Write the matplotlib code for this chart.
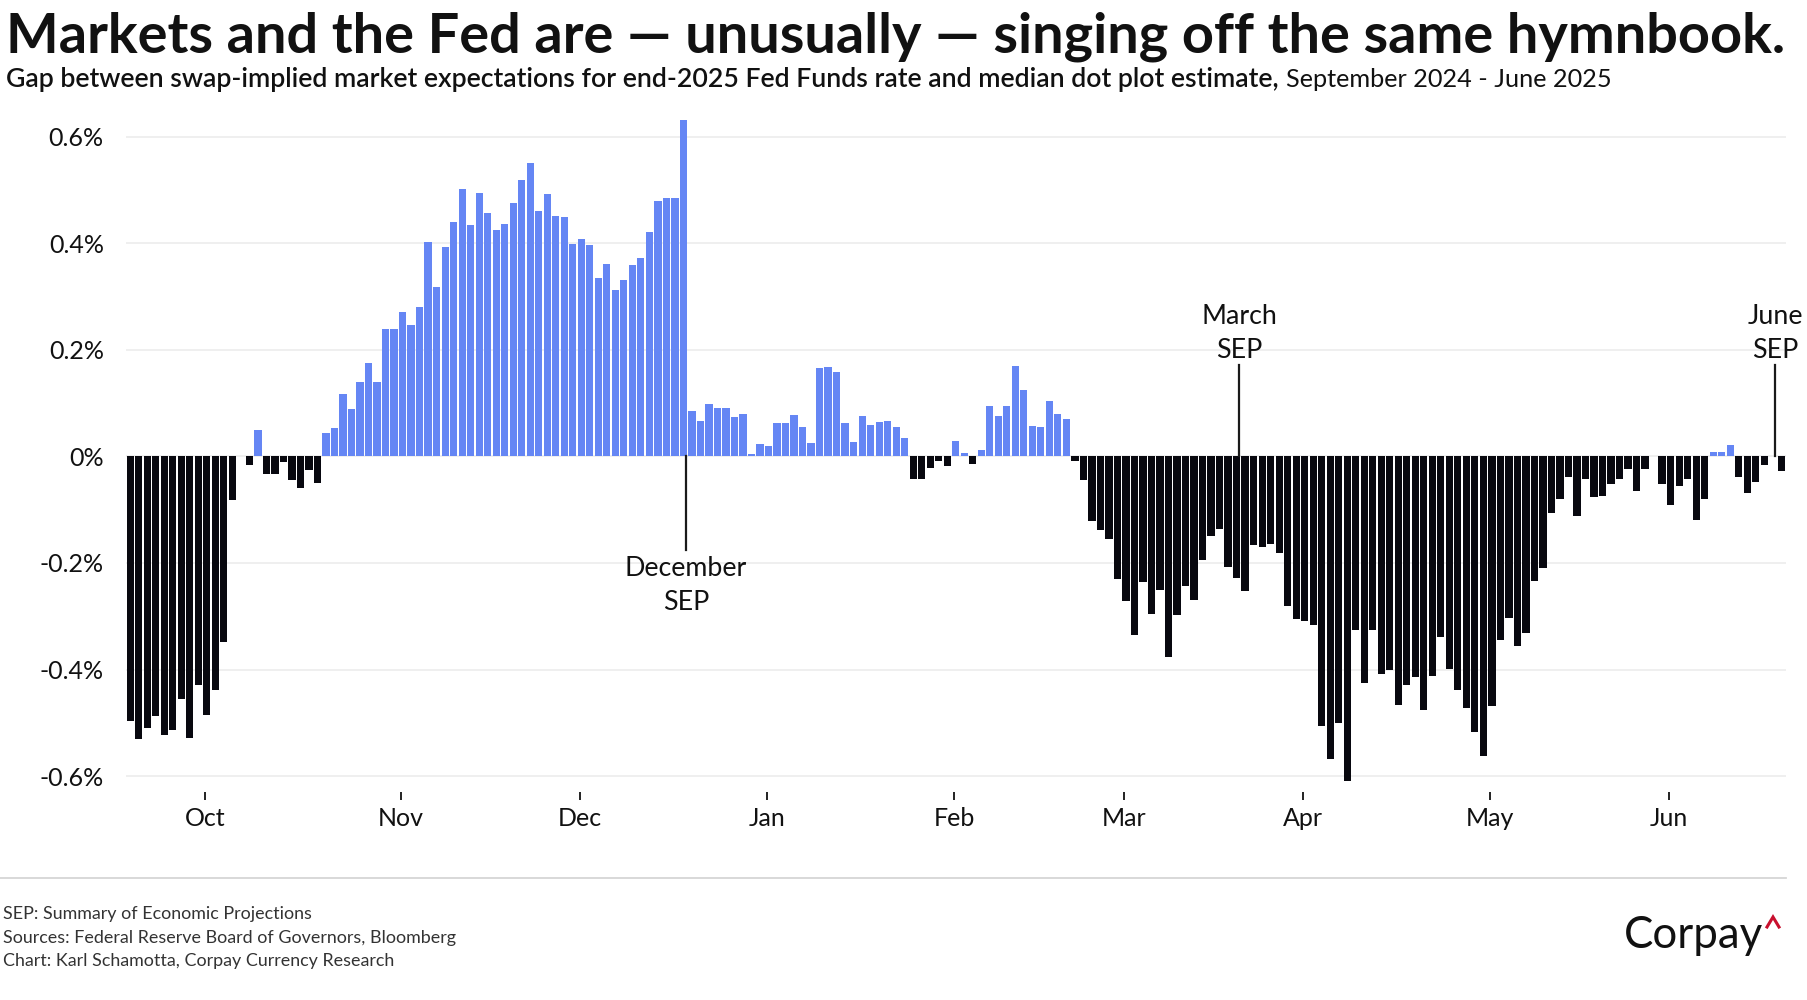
import matplotlib
matplotlib.use("Agg")
import matplotlib.pyplot as plt
import numpy as np
import pandas as pd
from matplotlib.lines import Line2D

plt.rcParams['font.family'] = ['Lato', 'DejaVu Sans']

# gap: swap-implied end-2025 Fed Funds minus median dot, percentage points
gap = [
    -0.497, -0.531, -0.509, -0.488, -0.523, -0.514, -0.455, -0.529, -0.430, -0.486,
    -0.439, -0.349, -0.082, 0.0, -0.016, 0.050, -0.033, -0.033, -0.011, -0.044,
    -0.060, -0.026, -0.050, 0.045, 0.054, 0.117, 0.089, 0.139, 0.176, 0.139,
    0.240, 0.239, 0.272, 0.246, 0.280, 0.402, 0.318, 0.393, 0.441, 0.502,
    0.434, 0.495, 0.458, 0.426, 0.437, 0.476, 0.520, 0.551, 0.461, 0.492,
    0.452, 0.450, 0.399, 0.408, 0.398, 0.336, 0.362, 0.312, 0.332, 0.360,
    0.373, 0.421, 0.479, 0.486, 0.486, 0.632, 0.086, 0.066, 0.098, 0.091,
    0.091, 0.075, 0.079, 0.004, 0.023, 0.020, 0.063, 0.063, 0.077, 0.056,
    0.025, 0.166, 0.168, 0.159, 0.062, 0.028, 0.076, 0.059, 0.065, 0.066,
    0.056, 0.034, -0.043, -0.043, -0.021, -0.009, -0.018, 0.029, 0.006, -0.014,
    0.012, 0.095, 0.076, 0.094, 0.169, 0.124, 0.057, 0.055, 0.104, 0.080,
    0.070, -0.009, -0.044, -0.122, -0.138, -0.155, -0.230, -0.271, -0.335, -0.236,
    -0.296, -0.250, -0.376, -0.298, -0.243, -0.269, -0.194, -0.149, -0.137, -0.207,
    -0.228, -0.253, -0.167, -0.170, -0.165, -0.181, -0.280, -0.305, -0.308, -0.317,
    -0.506, -0.568, -0.501, -0.609, -0.325, -0.425, -0.326, -0.408, -0.400, -0.467,
    -0.430, -0.414, -0.476, -0.412, -0.339, -0.399, -0.439, -0.473, -0.517, -0.563,
    -0.468, -0.344, -0.304, -0.356, -0.332, -0.234, -0.210, -0.107, -0.079, -0.039,
    -0.112, -0.043, -0.077, -0.075, -0.052, -0.043, -0.023, -0.065, -0.024, 0.0,
    -0.051, -0.092, -0.056, -0.043, -0.120, -0.080, 0.009, 0.008, 0.021, -0.039,
    -0.068, -0.048, -0.016, 0.0, -0.027,
]

# trading days shown (a few market closures missing from the series)
days = pd.bdate_range("2024-09-18", "2025-06-20")
days = days.drop(pd.to_datetime(["2025-01-09", "2025-05-26", "2025-06-19"]))

# SEP markers: bar where each line stands, as drawn on the chart
sep_bar = [65, 130, 193]
sep_names = ["December\nSEP", "March\nSEP", "June\nSEP"]
sep_side = [-1, 1, 1]

yticks = [-0.6, -0.4, -0.2, 0, 0.2, 0.4, 0.6]
ytick_labels = ["-0.6%", "-0.4%", "-0.2%", "0%", "0.2%", "0.4%", "0.6%"]

title = "Markets and the Fed are \u2014 unusually \u2014 singing off the same hymnbook."
sub_bold = "Gap between swap-implied market expectations for end-2025 Fed Funds rate and median dot plot estimate,"
sub_reg = "September 2024 - June 2025"
notes = ["SEP: Summary of Economic Projections",
         "Sources: Federal Reserve Board of Governors, Bloomberg",
         "Chart: Karl Schamotta, Corpay Currency Research"]

BLUE = "#6586f4"
BLACK = "#08080f"
INK = "#111111"

fig = plt.figure(figsize=(18.07, 10), dpi=100)
W, H = 1807, 1000
ax = fig.add_axes([126 / W, 1 - 792 / H, (1785.5 - 126) / W, (792 - 105) / H])

x = np.arange(len(gap))
vals = np.array(gap)
colors = [BLUE if v > 0 else BLACK for v in vals]
ax.bar(x, vals, width=0.85, color=colors, linewidth=0, zorder=2)

ax.set_xlim(-0.5, len(gap) - 0.5)
ax.set_ylim(-0.63, 0.66)
ax.set_yticks(yticks, ytick_labels)
ax.grid(axis="y", color="#ececec", linewidth=1.2, zorder=0)
ax.set_axisbelow(True)
for s in ax.spines.values():
    s.set_visible(False)

# month ticks at first trading day of each month
month_pos = [i for i in range(1, len(days)) if days[i].month != days[i - 1].month]
month_lab = [days[i].strftime("%b") for i in month_pos]
ax.set_xticks(np.array(month_pos) - 0.2, month_lab)
ax.tick_params(axis="x", length=6, width=1.4, color="#222222", pad=5,
               labelsize=18, labelcolor=INK)
ax.tick_params(axis="y", length=0, pad=16, labelsize=18, labelcolor=INK)

sep_texts = []
for b, name, side in zip(sep_bar, sep_names, sep_side):
    i = b + 0.3
    if side < 0:
        ax.plot([i, i], [0, -0.176], color="#1a1a1a", lw=1.6, zorder=3)
        t = ax.text(i, -0.187, name, ha="center", va="top", fontsize=18,
                    color=INK, linespacing=1.45)
    else:
        ax.plot([i, i], [0, 0.172], color="#1a1a1a", lw=1.6, zorder=3)
        t = ax.text(i, 0.176, name, ha="center", va="bottom", fontsize=18,
                    color=INK, linespacing=1.45)
    sep_texts.append(t)

# header
t_title = fig.text(6 / W, 1 - 52 / H, title, fontsize=40, fontweight="bold",
                   color=INK, ha="left", va="baseline")
t_sub = fig.text(6 / W, 1 - 87 / H, sub_bold, fontsize=18, fontweight="semibold",
                 color=INK, ha="left", va="baseline")
t_sub2 = fig.text(1286 / W, 1 - 87 / H, sub_reg, fontsize=18,
                  color=INK, ha="left", va="baseline")

# footer
fig.add_artist(Line2D([0, 1786 / W], [1 - 878 / H] * 2, color="#d6d6d6", lw=1.3))
t_notes = []
for k, line in enumerate(notes):
    t_notes.append(fig.text(3 / W, 1 - (914 + 23.5 * k) / H, line, fontsize=13,
                            color="#333333", ha="left", va="center"))
t_logo = fig.text(1624 / W, 1 - 936 / H, "Corpay", fontsize=30, color="#111111",
                  ha="left", va="center", fontweight="normal")
fig.add_artist(Line2D([1767 / W, 1773 / W, 1779 / W],
                      [1 - 927 / H, 1 - 917 / H, 1 - 927 / H],
                      color="#c8102e", lw=2.2, solid_joinstyle="miter"))

# size a few texts to the reference widths
fig.canvas.draw()
r = fig.canvas.get_renderer()


def fit(t, px):
    w = t.get_window_extent(r).width
    t.set_fontsize(t.get_fontsize() * px / w)


fit(t_title, 1777)
fit(t_sub, 1271)
fit(t_sub2, 325)
fit(sep_texts[0], 122)
for t in sep_texts[1:]:
    t.set_fontsize(sep_texts[0].get_fontsize())
fit(t_notes[1], 451)
for t in t_notes:
    t.set_fontsize(t_notes[1].get_fontsize())
fit(t_logo, 139)

fig.savefig("out.png", dpi=100)
